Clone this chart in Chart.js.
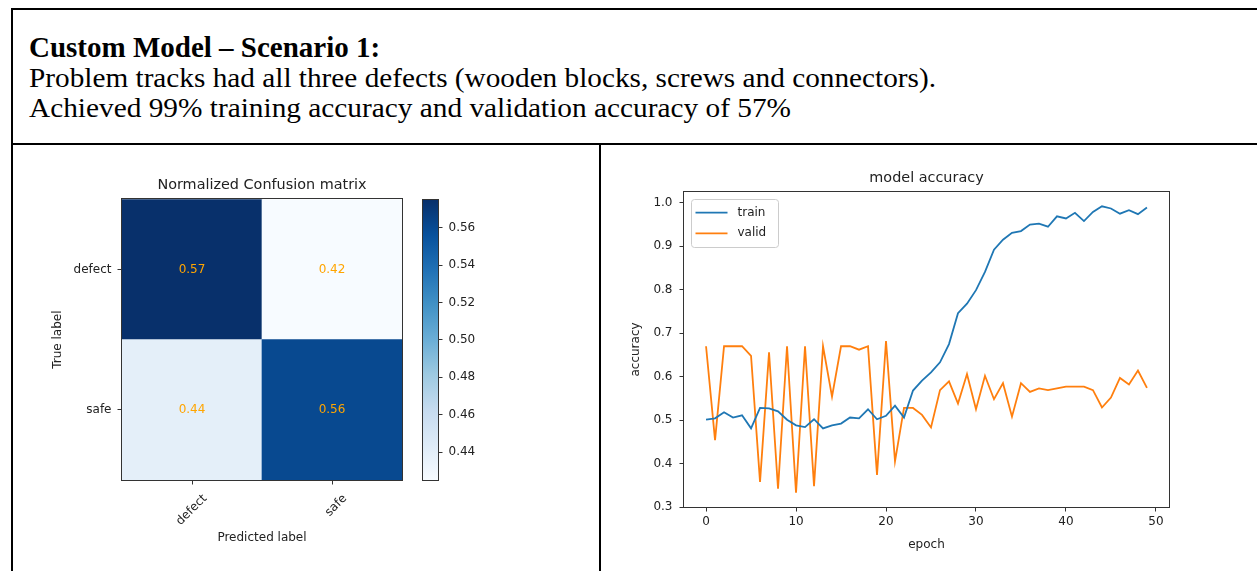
<!DOCTYPE html>
<html><head><meta charset="utf-8">
<script src="https://cdn.jsdelivr.net/npm/chart.js@4/dist/chart.umd.min.js"></script>
<style>
html,body{margin:0;padding:0;background:#fff;}
body{width:1257px;height:571px;position:relative;overflow:hidden;}
svg{position:absolute;left:0;top:0;}
canvas{position:absolute;}
</style></head><body>
<svg width="1257" height="571">
  <rect x="11" y="8" width="1246" height="2" fill="#000"/>
  <rect x="11" y="8" width="2" height="563" fill="#000"/>
  <rect x="11" y="143" width="1246" height="2" fill="#000"/>
  <rect x="599" y="143" width="2" height="428" fill="#000"/>
  <text x="29" y="56.5" font-family="Liberation Serif" font-weight="bold" font-size="29" fill="#000">Custom Model – Scenario 1:</text>
  <text x="29" y="86.7" font-family="Liberation Serif" font-size="27" fill="#000" textLength="907" lengthAdjust="spacingAndGlyphs">Problem tracks had all three defects (wooden blocks, screws and connectors).</text>
  <text x="29" y="117.3" font-family="Liberation Serif" font-size="27" fill="#000" textLength="762" lengthAdjust="spacingAndGlyphs">Achieved 99% training accuracy and validation accuracy of 57%</text>
</svg>
<canvas id="cm" width="396" height="425" style="left:14px;top:146px"></canvas>
<canvas id="cb" width="80" height="425" style="left:410px;top:146px"></canvas>
<canvas id="acc" width="656" height="425" style="left:601px;top:146px"></canvas>
<script>
// ---------- data ----------
const epochs = [0,1,2,3,4,5,6,7,8,9,10,11,12,13,14,15,16,17,18,19,20,21,22,23,24,25,26,27,28,29,30,31,32,33,34,35,36,37,38,39,40,41,42,43,44,45,46,47,48,49];
const trainAcc = [0.501,0.504,0.518,0.506,0.511,0.481,0.528,0.527,0.520,0.501,
                  0.488,0.484,0.502,0.481,0.488,0.492,0.506,0.504,0.525,0.502,
                  0.510,0.533,0.506,0.568,0.591,0.610,0.633,0.675,0.746,0.768,
                  0.799,0.841,0.892,0.915,0.931,0.935,0.950,0.952,0.945,0.969,
                  0.964,0.977,0.958,0.979,0.992,0.987,0.975,0.983,0.974,0.989];
const validAcc = [0.670,0.454,0.670,0.670,0.670,0.648,0.358,0.656,0.342,0.670,
                  0.333,0.670,0.348,0.670,0.554,0.670,0.670,0.662,0.670,0.374,
                  0.682,0.405,0.528,0.528,0.512,0.483,0.569,0.589,0.538,0.606,
                  0.525,0.602,0.548,0.585,0.508,0.585,0.565,0.573,0.569,0.573,
                  0.577,0.577,0.577,0.569,0.529,0.552,0.597,0.582,0.614,0.574];
const accTicksX = [0,10,20,30,40,50];
const accTicksY = [0.3,0.4,0.5,0.6,0.7,0.8,0.9,1.0];
const classNames = ['defect','safe'];
const cmValues = [[0.575,0.425],[0.439,0.561]]; // rows: true label, cols: predicted
const cbTicks = [0.44,0.46,0.48,0.50,0.52,0.54,0.56];

// ---------- styling helpers ----------
Chart.defaults.font.family = "'DejaVu Sans', sans-serif";
Chart.defaults.color = '#222';
const BLUES = ['#f7fbff','#deebf7','#c6dbef','#9ecae1','#6baed6','#4292c6','#2171b5','#08519c','#08306b'];
function hex2rgb(h){return [parseInt(h.substr(1,2),16),parseInt(h.substr(3,2),16),parseInt(h.substr(5,2),16)];}
function blues(t){
  t=Math.max(0,Math.min(1,t));
  const p=t*(BLUES.length-1), i=Math.min(Math.floor(p),BLUES.length-2), f=p-i;
  const a=hex2rgb(BLUES[i]), b=hex2rgb(BLUES[i+1]);
  return 'rgb('+a.map((v,k)=>Math.round(v+(b[k]-v)*f)).join(',')+')';
}
const frame = {id:'frame', afterDatasetsDraw(chart){
  const a=chart.chartArea, c=chart.ctx;
  c.save(); c.strokeStyle='#333'; c.lineWidth=1;
  c.strokeRect(Math.round(a.left)-0.5, Math.round(a.top)-0.5, Math.round(a.right-a.left)+1, Math.round(a.bottom-a.top)+1);
  c.restore();
}};
const tickGrid = {drawOnChartArea:false, drawTicks:true, tickLength:4.5, color:'#333'};

// ---------- confusion matrix ----------
const vmin = Math.min(...cmValues.flat()), vmax = Math.max(...cmValues.flat());
const rowsBottomUp = classNames.map((_,i)=>i).reverse();
const annot = {id:'annot', afterDatasetsDraw(chart){
  const c=chart.ctx; c.save();
  c.fillStyle='orange'; c.font="12px 'DejaVu Sans'"; c.textAlign='center'; c.textBaseline='middle';
  chart.data.datasets.forEach((ds,di)=>{
    chart.getDatasetMeta(di).data.forEach((bar,ci)=>{
      c.fillText(cmValues[ds.row][ci].toFixed(2), bar.x, (bar.y+bar.base)/2);
    });
  });
  c.restore();
}};
new Chart(document.getElementById('cm'), {
  type:'bar',
  data:{labels:classNames, datasets: rowsBottomUp.map(r=>({
    label:classNames[r], row:r,
    data: classNames.map(()=>1),
    backgroundColor: classNames.map((_,c)=>blues((cmValues[r][c]-vmin)/(vmax-vmin))),
    borderWidth:0, barPercentage:1, categoryPercentage:1
  }))},
  options:{
    responsive:false, animation:false, devicePixelRatio:1,
    layout:{padding:{left:0,right:8,top:0,bottom:0}},
    plugins:{legend:{display:false}, tooltip:{enabled:false},
      title:{display:true, text:'Normalized Confusion matrix', fullSize:false, color:'#222',
             font:{size:14.4, weight:'normal'}, padding:{top:30.4,bottom:5.6}}},
    scales:{
      x:{stacked:true, offset:true, grid:Object.assign({offset:false},tickGrid), border:{display:false},
         ticks:{minRotation:45,maxRotation:45,autoSkip:false,labelOffset:13,padding:7,color:'#222',font:{size:12}},
         title:{display:true,text:'Predicted label',color:'#222',font:{size:12},padding:{top:0,bottom:25.8}},
         afterFit(s){s.height=91;}},
      y:{stacked:true, min:0, max:classNames.length,
         afterBuildTicks(s){s.ticks=classNames.map((_,i)=>({value:i+0.5}));},
         ticks:{callback:(v)=>classNames[classNames.length-1-Math.floor(v)], padding:6, color:'#222', font:{size:12}},
         grid:tickGrid, border:{display:false},
         title:{display:true,text:'True label',color:'#222',font:{size:12},padding:{top:36.8,bottom:0}},
         afterFit(s){s.width=108;}}
    }
  },
  plugins:[frame, annot]
});

// ---------- colorbar ----------
new Chart(document.getElementById('cb'), {
  type:'bar',
  data:{labels:[''], datasets:[{data:[[vmin,vmax]], borderWidth:0, barPercentage:1, categoryPercentage:1,
    backgroundColor:(c)=>{const a=c.chart.chartArea; if(!a) return BLUES[0];
      const g=c.chart.ctx.createLinearGradient(0,a.bottom,0,a.top);
      BLUES.forEach((col,i)=>g.addColorStop(i/(BLUES.length-1),col)); return g;}}]},
  options:{
    responsive:false, animation:false, devicePixelRatio:1,
    layout:{padding:{left:13,right:0,top:54,bottom:91}},
    plugins:{legend:{display:false}, tooltip:{enabled:false}},
    scales:{
      x:{display:false},
      y:{position:'right', min:vmin, max:vmax,
         afterBuildTicks(s){s.ticks=cbTicks.map(v=>({value:v}));},
         ticks:{callback:(v)=>Number(v).toFixed(2), padding:6, color:'#222', font:{size:12}},
         grid:tickGrid, border:{display:false},
         afterFit(s){s.width=52;}}
    }
  },
  plugins:[frame]
});

// ---------- accuracy chart ----------
const allY = trainAcc.concat(validAcc);
const yLo = Math.min(...allY), yHi = Math.max(...allY), yPad = 0.05*(yHi-yLo);
const xLo = epochs[0], xHi = epochs[epochs.length-1], xPad = 0.05*(xHi-xLo);
const legendBox = {id:'legendBox', afterDraw(chart){
  const a=chart.chartArea, c=chart.ctx;
  const x0=Math.round(a.left)+7.5, y0=Math.round(a.top)+7.5, w=87, h=48, r=3;
  c.save();
  c.beginPath();
  c.moveTo(x0+r,y0); c.lineTo(x0+w-r,y0); c.arcTo(x0+w,y0,x0+w,y0+r,r);
  c.lineTo(x0+w,y0+h-r); c.arcTo(x0+w,y0+h,x0+w-r,y0+h,r);
  c.lineTo(x0+r,y0+h); c.arcTo(x0,y0+h,x0,y0+h-r,r);
  c.lineTo(x0,y0+r); c.arcTo(x0,y0,x0+r,y0,r); c.closePath();
  c.fillStyle='rgba(255,255,255,0.8)'; c.fill();
  c.strokeStyle='#cccccc'; c.lineWidth=1; c.stroke();
  c.font="12px 'DejaVu Sans'"; c.textBaseline='middle'; c.textAlign='left';
  chart.data.datasets.forEach((ds,i)=>{
    const ly = y0+13.2+i*20.6;
    c.beginPath(); c.moveTo(x0+4,ly); c.lineTo(x0+36,ly);
    c.strokeStyle=ds.borderColor; c.lineWidth=ds.borderWidth; c.stroke();
    c.fillStyle='#222'; c.fillText(ds.label, x0+46, ly);
  });
  c.restore();
}};
new Chart(document.getElementById('acc'), {
  type:'line',
  data:{datasets:[
    {label:'train', data:epochs.map((e,i)=>({x:e,y:trainAcc[i]})), borderColor:'#1f77b4', borderWidth:1.8, pointRadius:0, tension:0, fill:false},
    {label:'valid', data:epochs.map((e,i)=>({x:e,y:validAcc[i]})), borderColor:'#ff7f0e', borderWidth:1.8, pointRadius:0, tension:0, fill:false}
  ]},
  options:{
    responsive:false, animation:false, devicePixelRatio:1,
    layout:{padding:{left:0,right:88,top:0,bottom:0}},
    plugins:{legend:{display:false}, tooltip:{enabled:false},
      title:{display:true, text:'model accuracy', fullSize:false, color:'#222',
             font:{size:14.4, weight:'normal'}, padding:{top:23.4,bottom:5.3}}},
    scales:{
      x:{type:'linear', min:xLo-xPad, max:xHi+xPad,
         afterBuildTicks(s){s.ticks=accTicksX.map(v=>({value:v}));},
         ticks:{callback:(v)=>String(v), maxRotation:0, padding:3, color:'#222', font:{size:12}},
         grid:tickGrid, border:{display:false},
         title:{display:true,text:'epoch',color:'#222',font:{size:12},padding:{top:0,bottom:18.8}},
         afterFit(s){s.height=64;}},
      y:{type:'linear', min:yLo-yPad, max:yHi+yPad,
         afterBuildTicks(s){s.ticks=accTicksY.map(v=>({value:v}));},
         ticks:{callback:(v)=>Number(v).toFixed(1), padding:7, color:'#222', font:{size:12}},
         grid:tickGrid, border:{display:false},
         title:{display:true,text:'accuracy',color:'#222',font:{size:12},padding:{top:27.8,bottom:0}},
         afterFit(s){s.width=83;}}
    }
  },
  plugins:[frame, legendBox]
});
</script>
</body></html>
